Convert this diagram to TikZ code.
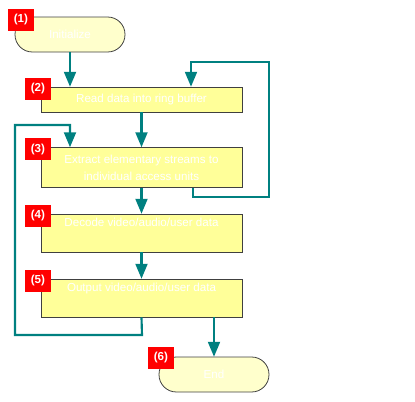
\documentclass[tikz,border=0pt]{standalone}
\usepackage{fontspec}
\setmainfont{Liberation Sans}
\usetikzlibrary{arrows}
\usetikzlibrary{positioning}

\definecolor{flowline}{RGB}{0,128,128}
\definecolor{boxfill}{RGB}{255,255,153}
\definecolor{termfill}{RGB}{255,255,204}
\definecolor{boxedge}{RGB}{64,64,64}

\tikzset{
  stepbox/.style={draw=boxedge,line width=0.6pt,fill=boxfill,minimum width=150.75pt,
    inner sep=0pt,align=center,text=white,font=\fontsize{8.7}{12.75}\selectfont},
  termbox/.style={stepbox,fill=termfill,minimum width=82.5pt,minimum height=26.25pt,
    rounded corners=13pt},
  numtag/.style={fill=red,text=white,inner sep=0pt,anchor=north west,
    minimum width=19.5pt,minimum height=16.5pt,font=\bfseries\fontsize{8.7}{10}\selectfont},
  flow/.style={draw=flowline,line width=1.6pt}
}

\begin{document}
\begin{tikzpicture}[line join=miter,>=triangle 45,x=0.75pt,y=-0.75pt]
\useasboundingbox (0,0) rectangle (415,401);
% boxes
\node[termbox] (init) at (70,34.5) {Initialize};
\node[stepbox,minimum height=18.75pt] (read) at (141.5,99.5) {Read data into ring buffer};
\node[stepbox,minimum height=30pt] (extract) at (141.5,167.5) {Extract elementary streams to\\individual access units};
\node[stepbox,minimum height=28.5pt] (decode) at (141.5,233) {Decode video/audio/user data\\\strut};
\node[stepbox,minimum height=28.5pt] (output) at (141.5,298) {Output video/audio/user data\\\strut};
\node[termbox] (end) at (214,374.5) {End};
% loop corners
\coordinate (r1) at (193,197);
\coordinate (r2) at (269,197);
\coordinate (r3) at (269,62);
\coordinate (r4) at (191,62);
\coordinate (l1) at (142,335);
\coordinate (l2) at (15,335);
\coordinate (l3) at (15,125);
\coordinate (l4) at (70,125);
% connectors
\draw[flow,->] (init.south) -- (init.south |- read.north);
\draw[flow,->] (read) -- (extract);
\draw[flow,->] (extract) -- (decode);
\draw[flow,->] (decode) -- (output);
\draw[flow,->] (end.north |- output.south) -- (end.north);
\draw[flow,->] (r1 |- extract.south) -- (r1) -- (r2) -- (r3) -- (r4) -- (r4 |- read.north);
\draw[flow,->] (output.south) -- (l1) -- (l2) -- (l3) -- (l4) -- (l4 |- extract.north);
% number tags
\node[numtag] (t1) at ([shift={(-7,-8)}]init.north west) {(1)};
\node[numtag] (t2) at ([shift={(-16,-9)}]read.north west) {(2)};
\node[numtag] (t3) at ([shift={(-16,-9)}]extract.north west) {(3)};
\node[numtag] (t4) at ([shift={(-16,-9)}]decode.north west) {(4)};
\node[numtag] (t5) at ([shift={(-16,-9)}]output.north west) {(5)};
\node[numtag] (t6) at ([shift={(-11,-10)}]end.north west) {(6)};
\end{tikzpicture}
\end{document}
